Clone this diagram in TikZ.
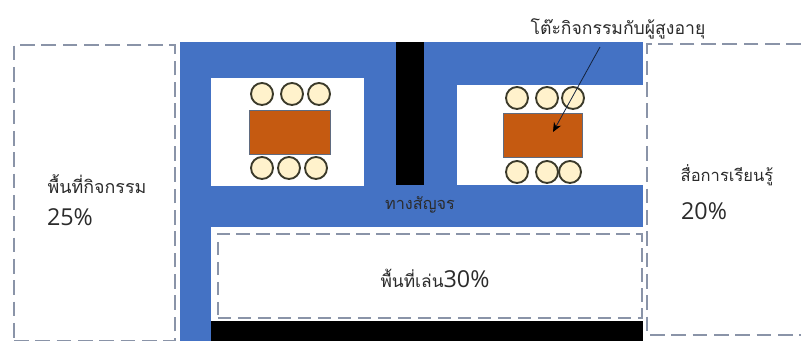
\documentclass[tikz,border=0pt]{standalone}
\usepackage{fontspec}
\setmainfont{Open Sans}
\newfontfamily\thaifont[Script=Thai]{Loma}
\usetikzlibrary{arrows.meta}
\usetikzlibrary{positioning}
\definecolor{floorblue}{HTML}{4472C4}
\definecolor{tableorange}{HTML}{C55A11}
\definecolor{tableedge}{HTML}{5F6B80}
\definecolor{seatfill}{HTML}{FFF2CC}
\definecolor{seatedge}{HTML}{3B3A2A}
\definecolor{dashgrey}{HTML}{8A94A8}
\definecolor{inktext}{HTML}{2B2B2B}
\tikzset{
  sized/.style 2 args={anchor=north west,inner sep=0pt,minimum width=#1*0.75pt,minimum height=#2*0.75pt},
  floorarea/.style={fill=floorblue},
  whitearea/.style={fill=white},
  blackarea/.style={fill=black},
  zoneline/.style={draw=dashgrey,line width=1.5pt,dash pattern=on 11pt off 5pt},
  playline/.style={draw=dashgrey,line width=1.2pt,dash pattern=on 10pt off 5pt},
  tablebox/.style={fill=tableorange,draw=tableedge,line width=0.9pt},
  seat/.style={circle,fill=seatfill,draw=seatedge,line width=1.4pt,inner sep=0pt,minimum size=16.5pt},
  thaitext/.style={text=inktext,font=\thaifont\fontsize{#1}{15}\selectfont,inner sep=0pt},
  pcttext/.style={text=inktext,font=\fontsize{17.5}{20}\selectfont,inner sep=0pt},
}
\begin{document}
\begin{tikzpicture}[x=0.75pt,y=-0.75pt]
  \useasboundingbox (0,0) rectangle (801,341);
  \node[sized={463}{299},floorarea](floor) at (180,42) {};
  \node[sized={153}{108},whitearea](roomleft) at (211,78) {};
  \node[sized={186}{100},whitearea](roomright) at (457,85) {};
  \node[sized={28}{143},blackarea](wall) at (396,42) {};
  \node[sized={432}{94},whitearea](playarea) at (211,227) {};
  \node[sized={432}{20},blackarea](wallbottom) at (211,321) {};
  \node[sized={424}{84},playline](playzone) at (217,233) {};
  \node[sized={161}{296},zoneline](activityzone) at (13,44) {};
  % right zone runs off the page
  \coordinate (mediatop) at (801,44);
  \coordinate (mediabottom) at (801,335);
  \draw[zoneline] (mediatop)--(647,44)--(647,335)--(mediabottom);
  \node[sized={81}{44},tablebox](tableleft) at (249,110) {};
  \node[sized={79}{44},tablebox](tableright) at (503,113) {};
  \foreach \x/\y [count=\i] in {262/94,292/94,319/94,262/168,289/168,316/168}
    \node[seat](seatleft\i) at (\x,\y) {};
  \foreach \x/\y [count=\i] in {517/98,547/98,573/98,517/172,547/172,570/172}
    \node[seat](seatright\i) at (\x,\y) {};
  \node[thaitext=13.2](eldertext) at (618,29) {โต๊ะกิจกรรมกับผู้สูงอายุ};
  \coordinate (arrowstart) at (600,47);
  \coordinate (arrowend) at (553,132);
  \draw[-{Stealth[length=7pt,width=6pt,black]},draw=black!70!floorblue,line width=0.6pt] (arrowstart)--(arrowend);
  \node[thaitext=13.4](activitytext) at (97,184) {พื้นที่กิจกรรม};
  \node[pcttext](activitypct) at (70,217) {25\%};
  \node[thaitext=12.4](mediatext) at (727,175) {สื่อการเรียนรู้};
  \node[pcttext](mediapct) at (704,211) {20\%};
  \node[thaitext=12.2](pathtext) at (420,205) {ทางสัญจร};
  \node[text=inktext,inner sep=0pt,font=\fontsize{17.5}{20}\selectfont](playtext) at (435,278) {{\thaifont\fontsize{13}{15}\selectfont พื้นที่เล่น}30\%};
\end{tikzpicture}
\end{document}
